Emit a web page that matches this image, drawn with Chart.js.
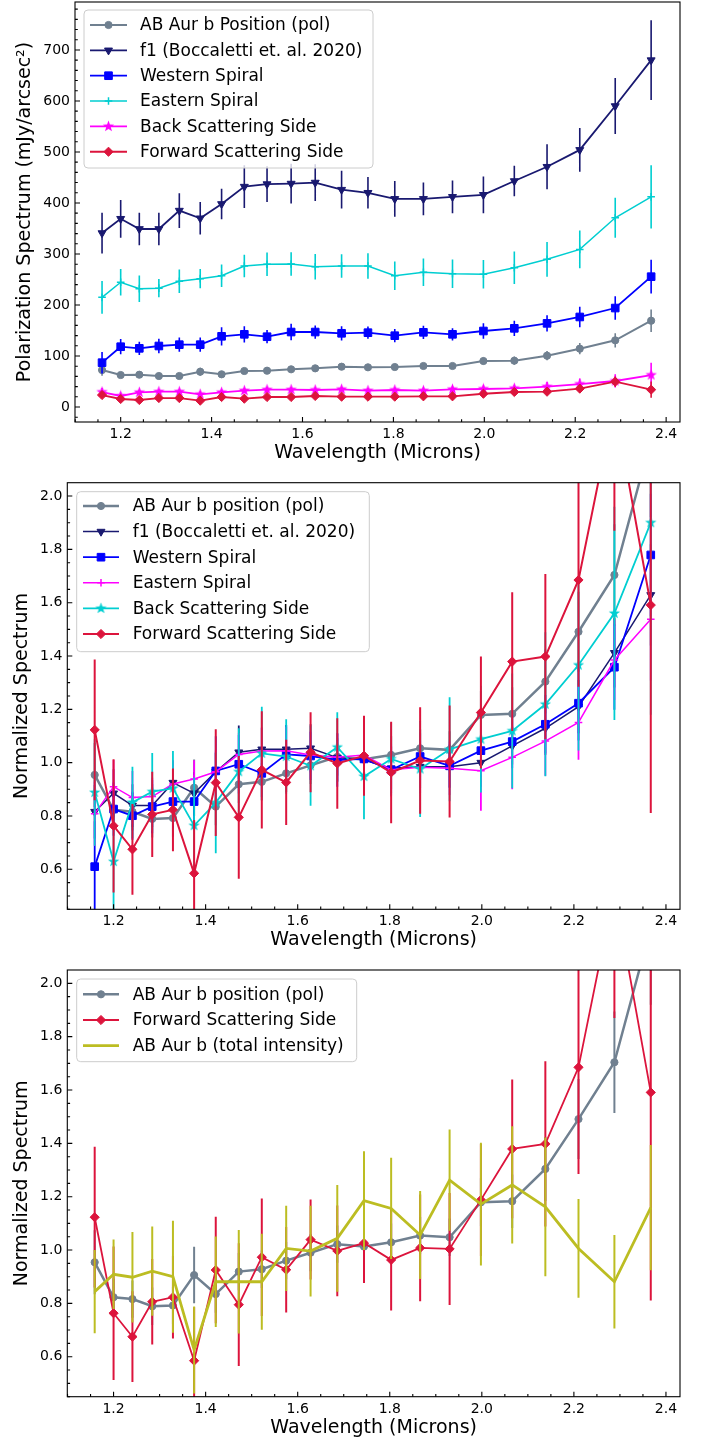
<!DOCTYPE html>
<html>
<head>
<meta charset="utf-8">
<script src="https://cdn.jsdelivr.net/npm/chart.js@4.4.1/dist/chart.umd.min.js"></script>
<style>
  html, body { margin: 0; padding: 0; background: #fff; }
  body { width: 706px; height: 1442px; position: relative; overflow: hidden; }
  canvas { position: absolute; left: 0; }
</style>
</head>
<body>
<canvas id="c1" width="706" height="478" style="top:-8px"></canvas>
<canvas id="c2" width="706" height="482" style="top:473px"></canvas>
<canvas id="c3" width="706" height="482" style="top:960px"></canvas>
<script>
// wavelength channels (microns)
const wavelength = [1.159, 1.200, 1.241, 1.284, 1.329, 1.375, 1.422, 1.472, 1.522, 1.575, 1.628,
                    1.686, 1.744, 1.803, 1.866, 1.930, 1.998, 2.066, 2.138, 2.210, 2.288, 2.367];

const xTickLabels = [1.2, 1.4, 1.6, 1.8, 2.0, 2.2, 2.4];
const polTickLabels = [0, 100, 200, 300, 400, 500, 600, 700];
const normTickLabels = [0.6, 0.8, 1.0, 1.2, 1.4, 1.6, 1.8, 2.0];

// top panel: polarization spectrum (mJy/arcsec^2)
const posPol     = [72.5, 62.7, 63.3, 60.8, 60.8, 69.2, 64.1, 70.6, 71.2, 73.9, 75.8, 79, 77.8, 78.4, 80.4, 80.4, 90.2, 90.8, 100.6, 114.4, 130.7, 169.2];
const posPolErr  = [11, 6, 6, 6, 6, 8, 6, 6, 6, 6, 6, 6, 6, 6, 6, 6, 7, 8, 9, 11, 14, 22];
const f1         = [341, 369, 349, 349, 385, 370, 398, 432, 437, 438, 440, 426, 420, 408, 408, 412, 416, 443, 471, 504, 590, 680];
const f1Err      = [40, 37, 32, 32, 34, 32, 30, 42, 35, 39, 36, 37, 31, 35, 32, 32, 36, 30, 44, 43, 55, 78];
const western    = [86.9, 118.2, 115, 119.6, 122.2, 122.2, 138.6, 142.5, 137.8, 147, 147, 144.5, 145.7, 139.8, 146.4, 142.5, 149, 154.2, 164, 176.5, 194, 255.5];
const westernErr = [21, 15, 13, 14, 14, 14, 18, 16, 13, 16, 13, 14, 12, 13, 13, 12, 15, 15, 16, 20, 23, 33];
const eastern    = [215, 244.5, 232, 233, 246.5, 251.6, 257.5, 276.5, 279.8, 280.4, 275, 276.5, 276.5, 257.5, 264, 261.4, 260.2, 273, 289.6, 309, 371, 412];
const easternErr = [32, 26, 26, 18, 23, 19, 22, 22, 23, 23, 25, 23, 25, 28, 27, 28, 28, 32, 34, 37, 39, 62];
const backSide   = [29.4, 21.6, 28.8, 30, 30, 24.9, 28.8, 32, 33.9, 33.9, 33.3, 34.7, 32, 33.3, 32, 34.7, 35.3, 36.7, 39.8, 45, 51, 62.7];
const backErr    = [8, 7, 5, 5, 5, 6, 6, 5, 6, 5, 5, 4, 5, 5, 6, 6, 7, 7, 9, 11, 13, 24];
const fwdSide    = [23.5, 15.7, 13.7, 17.6, 17.6, 12.4, 19.6, 16.3, 19.6, 19.6, 21.6, 20.3, 20.3, 20.3, 21, 21, 26, 29.4, 30, 36, 49.6, 34];
const fwdErr     = [6, 5, 4, 3, 3, 4, 4, 5, 5, 3, 3, 4, 3, 4, 4, 4, 4, 5, 6, 8, 10, 16];

// middle + bottom panels: normalized spectra
const normPos     = [0.954, 0.823, 0.816, 0.789, 0.792, 0.906, 0.835, 0.919, 0.928, 0.96, 0.99, 1.022, 1.013, 1.029, 1.054, 1.048, 1.179, 1.183, 1.304, 1.491, 1.704, 2.21];
const normPosErr  = [0.12, 0.07, 0.07, 0.07, 0.07, 0.106, 0.07, 0.07, 0.07, 0.07, 0.07, 0.07, 0.07, 0.07, 0.07, 0.07, 0.09, 0.1, 0.12, 0.15, 0.19, 0.29];
const normF1      = [0.816, 0.885, 0.839, 0.839, 0.925, 0.885, 0.966, 1.039, 1.05, 1.05, 1.054, 1.019, 1.01, 0.979, 0.985, 0.985, 1.0, 1.063, 1.129, 1.21, 1.412, 1.629];
const normF1Err   = [0.1, 0.09, 0.08, 0.08, 0.08, 0.08, 0.07, 0.1, 0.08, 0.09, 0.09, 0.09, 0.07, 0.08, 0.08, 0.08, 0.09, 0.07, 0.1, 0.1, 0.13, 0.19];
const normWest    = [0.61, 0.826, 0.801, 0.835, 0.854, 0.854, 0.969, 0.994, 0.96, 1.031, 1.025, 1.01, 1.014, 0.973, 1.023, 0.988, 1.045, 1.079, 1.144, 1.223, 1.358, 1.779];
const normWestErr = [0.17, 0.1, 0.09, 0.1, 0.1, 0.1, 0.13, 0.11, 0.09, 0.11, 0.09, 0.1, 0.08, 0.09, 0.09, 0.08, 0.1, 0.1, 0.11, 0.14, 0.16, 0.23];
const normEast    = [0.808, 0.91, 0.869, 0.873, 0.92, 0.939, 0.966, 1.031, 1.044, 1.045, 1.029, 1.02, 1.029, 0.973, 0.983, 0.979, 0.97, 1.02, 1.081, 1.151, 1.385, 1.538];
const normEastErr = [0.12, 0.1, 0.1, 0.07, 0.09, 0.07, 0.08, 0.08, 0.09, 0.09, 0.09, 0.09, 0.09, 0.1, 0.1, 0.1, 0.15, 0.12, 0.13, 0.14, 0.15, 0.23];
const normBack    = [0.888, 0.629, 0.851, 0.891, 0.904, 0.764, 0.85, 0.966, 1.035, 1.023, 0.988, 1.058, 0.948, 1.014, 0.976, 1.05, 1.088, 1.119, 1.219, 1.366, 1.56, 1.9];
const normBackErr = [0.2, 0.2, 0.134, 0.145, 0.14, 0.18, 0.19, 0.163, 0.175, 0.14, 0.15, 0.131, 0.16, 0.136, 0.18, 0.195, 0.2, 0.215, 0.27, 0.32, 0.4, 0.72];
const normFwd     = [1.123, 0.763, 0.675, 0.806, 0.823, 0.585, 0.925, 0.795, 0.973, 0.926, 1.039, 0.997, 1.026, 0.963, 1.008, 1.004, 1.188, 1.379, 1.398, 1.685, 2.35, 1.591];
const normFwdErr  = [0.264, 0.25, 0.17, 0.16, 0.155, 0.2, 0.2, 0.23, 0.22, 0.16, 0.15, 0.17, 0.15, 0.19, 0.2, 0.21, 0.21, 0.26, 0.31, 0.4, 0.48, 0.78];
const totalInt    = [0.844, 0.909, 0.898, 0.921, 0.9, 0.625, 0.881, 0.881, 0.881, 1.006, 0.996, 1.044, 1.185, 1.156, 1.056, 1.262, 1.172, 1.244, 1.162, 1.006, 0.881, 1.159];
const totalIntErr = [0.156, 0.13, 0.17, 0.167, 0.21, 0.163, 0.17, 0.194, 0.18, 0.16, 0.17, 0.2, 0.185, 0.19, 0.165, 0.19, 0.23, 0.22, 0.26, 0.185, 0.175, 0.235];

const GREY = '#708090', NAVY = '#191970', BLUE = '#0000ff', TURQ = '#00ced1',
      MAGENTA = '#ff00ff', CRIMSON = '#dc143c', OLIVE = '#bcbd22';
const FONT = '"DejaVu Sans", "Liberation Sans", sans-serif';
Chart.defaults.font.family = FONT;

const X_MIN = 1.0995, X_MAX = 2.4305;

function starImage(color) {
  const c = document.createElement('canvas');
  c.width = 13; c.height = 13;
  const g = c.getContext('2d');
  g.fillStyle = color;
  g.beginPath();
  for (let k = 0; k < 10; k++) {
    const r = k % 2 ? 2.4 : 6;
    const a = -Math.PI / 2 + k * Math.PI / 5;
    g.lineTo(6.5 + r * Math.cos(a), 6.5 + r * Math.sin(a));
  }
  g.closePath();
  g.fill();
  return c;
}

const MARKERS = {
  circle:  { pointStyle: 'circle', pointRadius: 3.6, pointRotation: 0 },
  tri:     { pointStyle: 'triangle', pointRadius: 4.6, pointRotation: 180 },
  square:  { pointStyle: 'rect', pointRadius: 5.4, pointRotation: 0 },
  plus:    { pointStyle: 'cross', pointRadius: 3.8, pointRotation: 0 },
  diamond: { pointStyle: 'rectRot', pointRadius: 4.6, pointRotation: 0 },
};

function series(label, values, errors, color, marker, lineWidth, errWidth) {
  let m = marker === 'star' ? { pointStyle: starImage(color), pointRadius: 5, pointRotation: 0 }
        : marker ? MARKERS[marker] : { pointStyle: 'circle', pointRadius: 0, pointRotation: 0 };
  return {
    label,
    data: wavelength.map((w, i) => ({ x: w, y: values[i] })),
    errors,
    marker,
    errWidth,
    borderColor: color,
    backgroundColor: color,
    borderWidth: lineWidth,
    pointBackgroundColor: color,
    pointBorderColor: color,
    pointBorderWidth: marker === 'plus' ? 1.5 : 1,
    pointHoverRadius: 0,
    tension: 0,
    ...m,
  };
}

// vertical error bars, drawn just before each series so later series sit on top
const errorBars = {
  id: 'errorBars',
  beforeDatasetDraw(chart, args) {
    const ds = chart.data.datasets[args.index];
    if (!ds.errors) return;
    const { ctx, chartArea: a } = chart;
    const x = chart.scales.x, y = chart.scales.y;
    ctx.save();
    ctx.beginPath();
    ctx.rect(a.left, a.top, a.right - a.left, a.bottom - a.top);
    ctx.clip();
    ctx.strokeStyle = ds.borderColor;
    ctx.lineWidth = ds.errWidth;
    ctx.beginPath();
    ds.data.forEach((p, i) => {
      const px = x.getPixelForValue(p.x);
      ctx.moveTo(px, y.getPixelForValue(p.y - ds.errors[i]));
      ctx.lineTo(px, y.getPixelForValue(p.y + ds.errors[i]));
    });
    ctx.stroke();
    ctx.restore();
  }
};

// matplotlib-like frame with inward ticks and axis labels
const frame = {
  id: 'frame',
  afterDatasetsDraw(chart, args, o) {
    const { ctx, chartArea: a } = chart;
    const x = chart.scales.x, y = chart.scales.y;
    ctx.save();
    ctx.strokeStyle = '#000';
    ctx.lineWidth = 1.1;
    ctx.strokeRect(a.left, a.top, a.right - a.left, a.bottom - a.top);
    ctx.beginPath();
    for (let k = 20; k <= 50; k++) {
      const v = k * 0.05;
      if (v < x.min || v > x.max) continue;
      const p = x.getPixelForValue(v);
      const len = k % 4 === 0 ? 5 : 2.8;
      ctx.moveTo(p, a.bottom); ctx.lineTo(p, a.bottom - len);
    }
    for (let k = Math.ceil(y.min / o.yMinor); k * o.yMinor <= y.max; k++) {
      const v = k * o.yMinor;
      const p = y.getPixelForValue(v);
      const len = k % o.yPer === 0 ? 5 : 2.8;
      ctx.moveTo(a.left, p); ctx.lineTo(a.left + len, p);
    }
    ctx.stroke();

    ctx.fillStyle = '#000';
    ctx.font = '19px ' + FONT;
    ctx.textAlign = 'center';
    ctx.textBaseline = 'middle';
    ctx.fillText('Wavelength (Microns)', (a.left + a.right) / 2, a.bottom + 31);
    ctx.translate(o.yLabelX, (a.top + a.bottom) / 2);
    ctx.rotate(-Math.PI / 2);
    ctx.fillText(o.yLabel, 0, 0);
    ctx.restore();
  }
};

function drawMarker(ctx, ds, cx, cy) {
  const r = ds.pointRadius;
  ctx.save();
  ctx.fillStyle = ds.borderColor;
  ctx.strokeStyle = ds.borderColor;
  ctx.lineWidth = ds.pointBorderWidth;
  if (ds.marker === 'star') {
    ctx.drawImage(ds.pointStyle, cx - 6.5, cy - 6.5);
  } else {
    ctx.beginPath();
    if (ds.marker === 'circle') ctx.arc(cx, cy, r, 0, Math.PI * 2);
    else if (ds.marker === 'tri') {
      ctx.moveTo(cx, cy + r);
      ctx.lineTo(cx - r * 0.866, cy - r / 2);
      ctx.lineTo(cx + r * 0.866, cy - r / 2);
      ctx.closePath();
    } else if (ds.marker === 'square') {
      const s = r * Math.SQRT1_2;
      ctx.rect(cx - s, cy - s, 2 * s, 2 * s);
    } else if (ds.marker === 'diamond') {
      ctx.moveTo(cx, cy - r); ctx.lineTo(cx + r, cy); ctx.lineTo(cx, cy + r); ctx.lineTo(cx - r, cy);
      ctx.closePath();
    } else if (ds.marker === 'plus') {
      ctx.moveTo(cx - r, cy); ctx.lineTo(cx + r, cy); ctx.moveTo(cx, cy - r); ctx.lineTo(cx, cy + r);
      ctx.stroke();
      ctx.restore();
      return;
    }
    ctx.fill();
    ctx.stroke();
  }
  ctx.restore();
}

const mplLegend = {
  id: 'mplLegend',
  afterDraw(chart, args, o) {
    const ctx = chart.ctx;
    ctx.save();
    ctx.beginPath();
    ctx.roundRect(o.x, o.y, o.w, o.h, 4);
    ctx.fillStyle = 'rgba(255,255,255,0.8)';
    ctx.fill();
    ctx.strokeStyle = '#cccccc';
    ctx.lineWidth = 1;
    ctx.stroke();
    chart.data.datasets.forEach((ds, i) => {
      const cy = o.row0 + i * o.step;
      ctx.strokeStyle = ds.borderColor;
      ctx.lineWidth = ds.borderWidth;
      ctx.beginPath();
      ctx.moveTo(o.lineX0, cy);
      ctx.lineTo(o.lineX1, cy);
      ctx.stroke();
      if (ds.marker) drawMarker(ctx, ds, (o.lineX0 + o.lineX1) / 2, cy);
      ctx.fillStyle = '#000';
      ctx.font = '17px ' + FONT;
      ctx.textAlign = 'left';
      ctx.textBaseline = 'middle';
      ctx.fillText(ds.label, o.textX, cy + 1);
    });
    ctx.restore();
  }
};

function makeChart(id, p) {
  const n = p.datasets.length;
  p.datasets.forEach((ds, i) => { ds.order = n - i; });
  return new Chart(document.getElementById(id), {
    type: 'line',
    data: { datasets: p.datasets },
    options: {
      responsive: false,
      animation: false,
      events: [],
      layout: { padding: { top: p.padTop, right: 26, left: 0, bottom: 0 } },
      plugins: {
        legend: { display: false },
        tooltip: { enabled: false },
        frame: { yMinor: p.yMinor, yPer: p.yPer, yLabel: p.yLabel, yLabelX: p.yLabelX },
        mplLegend: p.legend,
      },
      scales: {
        x: {
          type: 'linear', min: X_MIN, max: X_MAX,
          grid: { display: false, drawTicks: false },
          border: { display: false },
          ticks: { color: '#000', font: { size: 14 }, padding: 4, maxRotation: 0, autoSkip: false,
                   callback: (v) => Number(v).toFixed(1) },
          afterBuildTicks: (s) => { s.ticks = xTickLabels.map((v) => ({ value: v })); },
          afterFit: (s) => { s.height = p.xAxisH; s.paddingLeft = 0; s.paddingRight = 0; },
        },
        y: {
          type: 'linear', min: p.yMin, max: p.yMax,
          grid: { display: false, drawTicks: false },
          border: { display: false },
          ticks: { color: '#000', font: { size: 14 }, padding: 5, autoSkip: false,
                   callback: (v) => p.yFmt(v) },
          afterBuildTicks: (s) => { s.ticks = p.yTicks.map((v) => ({ value: v })); },
          afterFit: (s) => { s.width = p.yAxisW; s.paddingTop = 0; s.paddingBottom = 0; },
        },
      },
    },
    plugins: [errorBars, frame, mplLegend],
  });
}

// canvas c1 starts at y=-8, c2 at 473, c3 at 960 (legend coords are canvas-local)
makeChart('c1', {
  datasets: [
    series('AB Aur b Position (pol)', posPol, posPolErr, GREY, 'circle', 2, 1.6),
    series('f1 (Boccaletti et. al. 2020)', f1, f1Err, NAVY, 'tri', 1.8, 1.6),
    series('Western Spiral', western, westernErr, BLUE, 'square', 1.8, 1.6),
    series('Eastern Spiral', eastern, easternErr, TURQ, 'plus', 1.5, 1.6),
    series('Back Scattering Side', backSide, backErr, MAGENTA, 'star', 1.8, 1.6),
    series('Forward Scattering Side', fwdSide, fwdErr, CRIMSON, 'diamond', 1.8, 1.6),
  ],
  padTop: 10, xAxisH: 48, yAxisW: 75,
  yMin: -29.4, yMax: 794, yTicks: polTickLabels, yFmt: (v) => String(Math.round(v)),
  yMinor: 20, yPer: 5,
  yLabel: 'Polarization Spectrum (mJy/arcsec\u00b2)', yLabelX: 25,
  legend: { x: 84, y: 18, w: 289, h: 158, row0: 33, step: 25.35, lineX0: 90, lineX1: 127, textX: 140 },
});

makeChart('c2', {
  datasets: [
    series('AB Aur b position (pol)', normPos, normPosErr, GREY, 'circle', 2.5, 2),
    series('f1 (Boccaletti et. al. 2020)', normF1, normF1Err, NAVY, 'tri', 1.5, 1.8),
    series('Western Spiral', normWest, normWestErr, BLUE, 'square', 1.8, 1.8),
    series('Eastern Spiral', normEast, normEastErr, MAGENTA, 'plus', 1.5, 1.8),
    series('Back Scattering Side', normBack, normBackErr, TURQ, 'star', 1.8, 1.8),
    series('Forward Scattering Side', normFwd, normFwdErr, CRIMSON, 'diamond', 2, 2),
  ],
  padTop: 9.7, xAxisH: 45.7, yAxisW: 67.3,
  yMin: 0.45, yMax: 2.05, yTicks: normTickLabels, yFmt: (v) => Number(v).toFixed(1),
  yMinor: 0.05, yPer: 4,
  yLabel: 'Normalized Spectrum', yLabelX: 22,
  legend: { x: 76.7, y: 18.7, w: 292.6, h: 160, row0: 33, step: 25.6, lineX0: 83, lineX1: 119, textX: 132.7 },
});

makeChart('c3', {
  datasets: [
    series('AB Aur b position (pol)', normPos, normPosErr, GREY, 'circle', 2.5, 2),
    series('Forward Scattering Side', normFwd, normFwdErr, CRIMSON, 'diamond', 1.8, 2),
    series('AB Aur b (total intensity)', totalInt, totalIntErr, OLIVE, null, 2.8, 2),
  ],
  padTop: 10, xAxisH: 45.3, yAxisW: 67.3,
  yMin: 0.45, yMax: 2.05, yTicks: normTickLabels, yFmt: (v) => Number(v).toFixed(1),
  yMinor: 0.05, yPer: 4,
  yLabel: 'Normalized Spectrum', yLabelX: 22,
  legend: { x: 76.7, y: 19, w: 280, h: 82.7, row0: 34.3, step: 25.7, lineX0: 83, lineX1: 119, textX: 132.7 },
});
</script>
</body>
</html>
